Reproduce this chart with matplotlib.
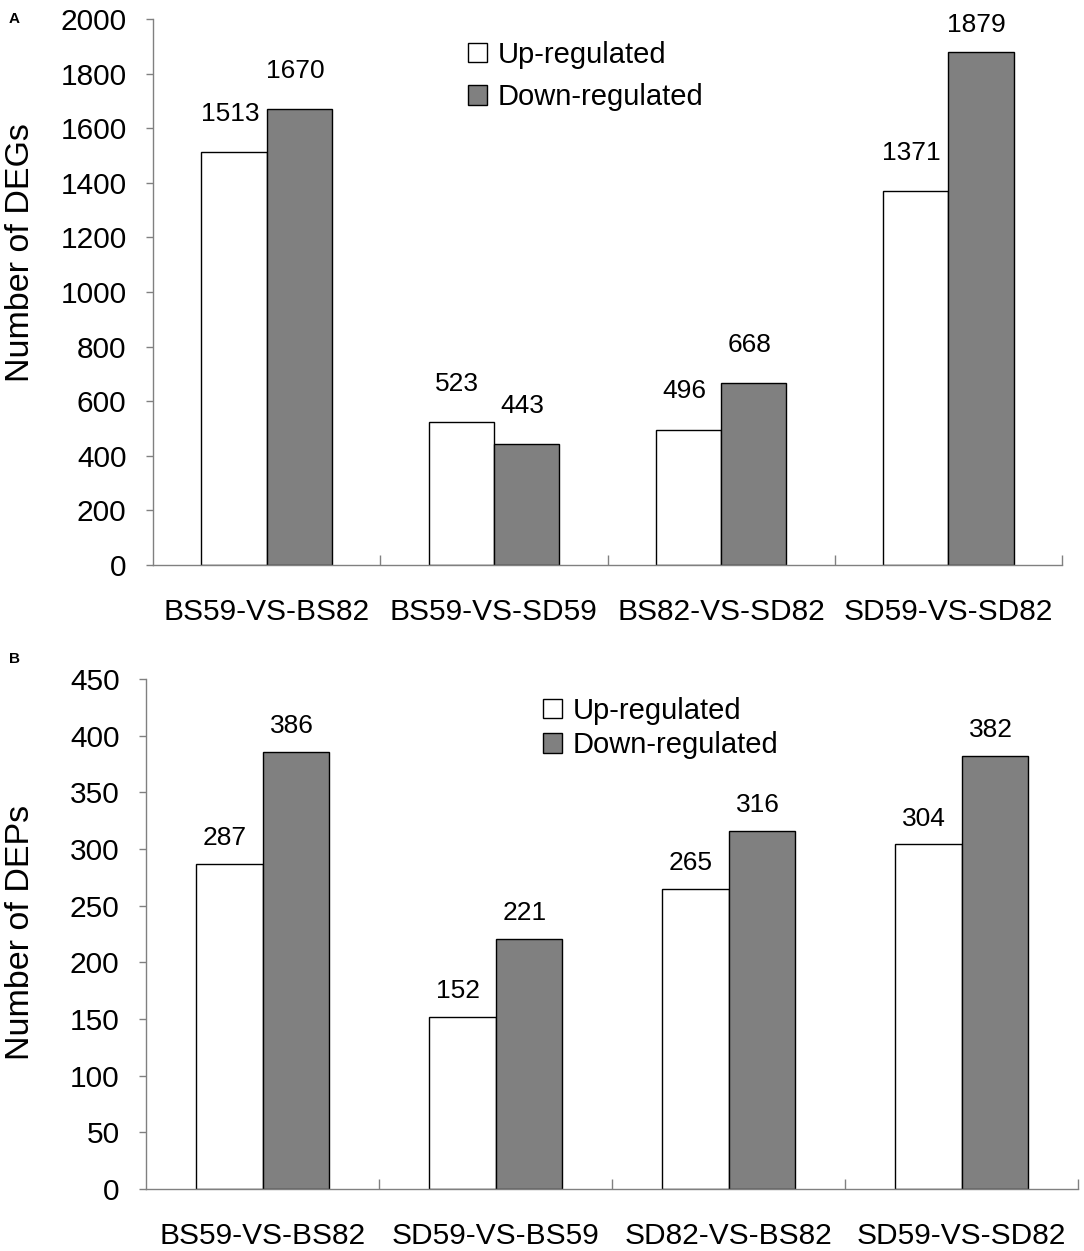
import numpy as np
import matplotlib
matplotlib.use('Agg')
import matplotlib.pyplot as plt

plt.rcParams['font.family'] = ['Liberation Sans', 'DejaVu Sans']

# panel A: DEGs
deg_groups = ['BS59-VS-BS82', 'BS59-VS-SD59', 'BS82-VS-SD82', 'SD59-VS-SD82']
deg_up = [1513, 523, 496, 1371]
deg_down = [1670, 443, 668, 1879]

# panel B: DEPs
dep_groups = ['BS59-VS-BS82', 'SD59-VS-BS59', 'SD82-VS-BS82', 'SD59-VS-SD82']
dep_up = [287, 152, 265, 304]
dep_down = [386, 221, 316, 382]

W, H = 1084, 1251
fig = plt.figure(figsize=(W / 100, H / 100), dpi=100)

spine_gray = '#808080'
bar_gray = '#808080'
bw = 0.287


def draw_panel(ax, groups, up, down, ymax, ystep, gap, leg_xy, leg_space):
    x = np.arange(len(groups))
    b1 = ax.bar(x - bw / 2, up, bw, color='white', edgecolor='black', linewidth=1.0,
                label='Up-regulated')
    b2 = ax.bar(x + bw / 2, down, bw, color=bar_gray, edgecolor='black', linewidth=1.0,
                label='Down-regulated')
    # value labels sit a fixed gap above the bar, but never past the plot top
    for bars in (b1, b2):
        for r in bars:
            h = r.get_height()
            ty = min(h + gap * ymax, 0.976 * ymax)
            ax.annotate(str(int(h)), (r.get_x() + r.get_width() / 2, ty),
                        xytext=(-3, 0), textcoords='offset points',
                        ha='center', va='baseline', fontsize=19)
    ax.set_xlim(-0.5, len(groups) - 0.5)
    ax.set_ylim(0, ymax)
    ax.set_yticks(np.arange(0, ymax + 1, ystep))
    ax.set_xticks(x)
    ax.set_xticklabels(groups)
    ax.set_xticks(np.arange(0.5, len(groups)), minor=True)
    ax.tick_params(axis='x', which='major', length=0, pad=24, labelsize=21.5)
    ax.tick_params(axis='x', which='minor', direction='in', length=7, width=1,
                   color=spine_gray)
    ax.tick_params(axis='y', direction='out', length=5, width=1, color=spine_gray,
                   pad=14, labelsize=21.5)
    for s in ['top', 'right']:
        ax.spines[s].set_visible(False)
    for s in ['left', 'bottom']:
        ax.spines[s].set_color(spine_gray)
        ax.spines[s].set_linewidth(1.0)
    ax.legend(loc='upper left', bbox_to_anchor=(leg_xy[0] / W, 1 - leg_xy[1] / H),
              bbox_transform=fig.transFigure, frameon=False, fontsize=21,
              handlelength=0.65, handleheight=0.65, handletextpad=0.38,
              labelspacing=leg_space, borderpad=0, borderaxespad=0)


ax1 = fig.add_axes([153 / W, 1 - 565 / H, 909 / W, 546 / H])
draw_panel(ax1, deg_groups, deg_up, deg_down, 2000, 200, 0.057, (468, 41), 0.49)

ax2 = fig.add_axes([146 / W, 1 - 1189 / H, 932 / W, 510 / H])
draw_panel(ax2, dep_groups, dep_up, dep_down, 450, 50, 0.037, (543, 697), 0.22)

fig.text(21 / W, 1 - 253 / H, 'Number of DEGs', rotation=90, ha='center', va='center',
         fontsize=24.5)
fig.text(21 / W, 1 - 932 / H, 'Number of DEPs', rotation=90, ha='center', va='center',
         fontsize=24.5)
fig.text(14 / W, 1 - 19 / H, 'A', ha='center', va='center', fontsize=11, fontweight='bold')
fig.text(14 / W, 1 - 659 / H, 'B', ha='center', va='center', fontsize=11, fontweight='bold')

fig.savefig('out.png', dpi=100)
